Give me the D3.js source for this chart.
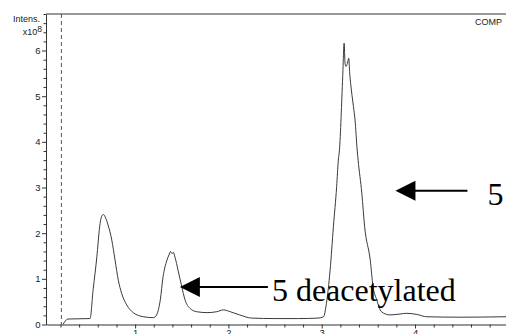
<!DOCTYPE html>
<html>
<head>
<meta charset="utf-8">
<script src="https://cdn.jsdelivr.net/npm/d3@7"></script>
<style>
  html, body { margin: 0; padding: 0; background: #fff; }
  svg { display: block; }
</style>
</head>
<body>
<svg id="chart" width="506" height="334"></svg>
<script>
// Retention time (min) of the ion chromatogram trace
const times = [
  0.227, 0.28, 0.517,
  0.55, 0.59, 0.62, 0.64, 0.66, 0.685, 0.71, 0.75, 0.785, 0.82, 0.856, 0.91, 0.98, 1.09, 1.195,
  1.23, 1.27, 1.30, 1.34, 1.362, 1.38, 1.395, 1.41, 1.428, 1.46, 1.50, 1.535, 1.59, 1.66, 1.77, 1.875, 1.945, 2.02, 2.12,
  2.25, 2.5, 2.75, 2.96, 3.02, 3.05, 3.09, 3.125, 3.16, 3.178,
  3.19, 3.225, 3.24, 3.25, 3.26, 3.275, 3.29, 3.30, 3.31, 3.34, 3.357, 3.38,
  3.39, 3.43, 3.46, 3.52, 3.55, 3.59, 3.64, 3.73, 3.84, 3.91, 4.02, 4.125, 4.48, 4.98
];
// Intensity (x10^8) at each retention time
const intensity = [
  0.0, 0.12, 0.13,
  0.76, 1.48, 2.14, 2.36, 2.41, 2.33, 2.18, 1.85, 1.41, 0.97, 0.68, 0.43, 0.26, 0.17, 0.15,
  0.21, 0.54, 1.05, 1.40, 1.52, 1.60, 1.55, 1.58, 1.47, 1.19, 0.83, 0.54, 0.35, 0.28, 0.26, 0.28, 0.32, 0.28, 0.21,
  0.14, 0.13, 0.13, 0.14, 0.17, 0.46, 1.19, 2.14, 3.02, 3.6,
  3.82, 5.43, 6.16, 5.72, 5.65, 5.72, 5.83, 5.5, 5.28, 4.77, 4.48, 3.82,
  3.6, 2.87, 2.14, 1.41, 0.83, 0.54, 0.28, 0.21, 0.23, 0.245, 0.22, 0.17, 0.16, 0.17
];

const yMajorTicks = [0, 1, 2, 3, 4, 5, 6];
const xMajorTicks = [1, 2, 3, 4];
const injectionMarker = 0.21;   // dashed start marker (min)

// Peak annotations: arrow tip in data units, label text
const annotationLabels = ["5 deacetylated", "5"];
const annotationTips = [[1.48, 0.82], [3.79, 2.93]];

const svg = d3.select("#chart");
const plotLeft = 46, plotRight = 506, plotTop = 14, plotBottom = 324.5;

const x = d3.scaleLinear().domain([0.045, 4.975]).range([plotLeft, plotRight]);
const y = d3.scaleLinear().domain([0, 6.8]).range([plotBottom, plotTop]);

const axisColor = "#333";
const sans = "Liberation Sans, Arial, sans-serif";

// minor ticks every 0.2
const yMinor = d3.range(0, 6.81, 0.2).filter(v => Math.abs(v - Math.round(v)) > 1e-6);
const xMinor = d3.range(0.2, 4.99, 0.2).filter(v => Math.abs(v - Math.round(v)) > 1e-6);

function styleAxis(g) {
  g.selectAll("path, line").attr("stroke", axisColor).attr("stroke-width", 1);
  g.selectAll("text").attr("fill", "#222").attr("font-family", sans).attr("font-size", 9.5);
}

// y axis
svg.append("g")
  .attr("transform", `translate(${plotLeft},0)`)
  .call(d3.axisLeft(y).tickValues(yMinor).tickSize(2.5).tickFormat(""))
  .call(g => g.select(".domain").remove())
  .call(styleAxis);
svg.append("g")
  .attr("transform", `translate(${plotLeft},0)`)
  .call(d3.axisLeft(y).tickValues(yMajorTicks).tickSize(4).tickSizeOuter(0).tickPadding(1.5).tickFormat(d3.format("d")))
  .call(styleAxis);

// x axis
svg.append("g")
  .attr("transform", `translate(0,${plotBottom})`)
  .call(d3.axisBottom(x).tickValues(xMinor).tickSize(3).tickFormat(""))
  .call(g => g.select(".domain").remove())
  .call(styleAxis);
svg.append("g")
  .attr("transform", `translate(0,${plotBottom})`)
  .call(d3.axisBottom(x).tickValues(xMajorTicks).tickSize(4).tickSizeOuter(0).tickPadding(1).tickFormat(d3.format("d")))
  .call(styleAxis);

// top frame line
svg.append("line")
  .attr("x1", plotLeft).attr("x2", plotRight).attr("y1", plotTop).attr("y2", plotTop)
  .attr("stroke", axisColor).attr("stroke-width", 1);

// dashed start marker
svg.append("line")
  .attr("x1", x(injectionMarker)).attr("x2", x(injectionMarker))
  .attr("y1", plotTop).attr("y2", plotBottom)
  .attr("stroke", "#444").attr("stroke-width", 0.9)
  .attr("stroke-dasharray", "4,3");

// axis title
svg.append("text")
  .attr("font-family", sans).attr("font-size", 9).attr("fill", "#222")
  .attr("text-anchor", "end").attr("x", 40).attr("y", 22)
  .text("Intens.");
const line2 = svg.append("text")
  .attr("font-family", sans).attr("font-size", 9).attr("fill", "#222")
  .attr("text-anchor", "end").attr("x", 42).attr("y", 35);
line2.append("tspan").text("x10");
line2.append("tspan").attr("dy", -3).attr("font-size", 8.5).text("8");

svg.append("text")
  .attr("x", 502).attr("y", 25)
  .attr("text-anchor", "end")
  .attr("font-family", sans).attr("font-size", 9).attr("fill", "#222")
  .text("COMP");

// chromatogram trace
const pts = times.map((t, i) => [t, intensity[i]]);
svg.append("path")
  .datum(pts)
  .attr("fill", "none")
  .attr("stroke", "#3a3a3a")
  .attr("stroke-width", 1)
  .attr("d", d3.line().x(d => x(d[0])).y(d => y(d[1])).curve(d3.curveMonotoneX));

// annotation arrows and labels
const serif = "Liberation Serif, Times New Roman, serif";
const arrowLen = [88, 72];
const labelOffset = [[92, 14], [92, 14]];
annotationTips.forEach((tip, i) => {
  const tx = x(tip[0]), ty = y(tip[1]);
  svg.append("line")
    .attr("x1", tx + 18).attr("x2", tx + arrowLen[i])
    .attr("y1", ty).attr("y2", ty)
    .attr("stroke", "#000").attr("stroke-width", 2);
  svg.append("path")
    .attr("d", `M${tx},${ty} L${tx + 20},${ty - 10} L${tx + 20},${ty + 10} Z`)
    .attr("fill", "#000");
  svg.append("text")
    .attr("x", tx + labelOffset[i][0]).attr("y", ty + labelOffset[i][1])
    .attr("font-family", serif).attr("font-size", 32).attr("fill", "#000")
    .text(annotationLabels[i]);
});
</script>
</body>
</html>
